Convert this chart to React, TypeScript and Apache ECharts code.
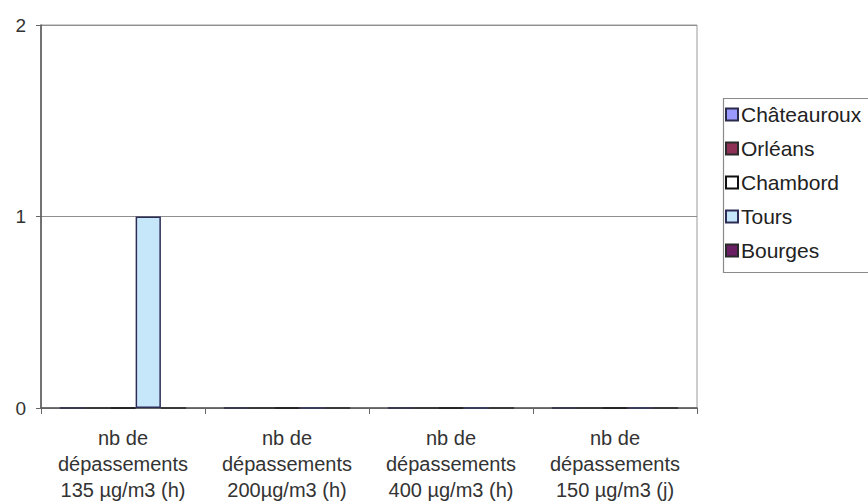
import React, { useEffect, useRef } from "react";
import * as echarts from "echarts";

const categories = [
  "nb de\ndépassements\n135 µg/m3 (h)",
  "nb de\ndépassements\n200µg/m3 (h)",
  "nb de\ndépassements\n400 µg/m3 (h)",
  "nb de\ndépassements\n150 µg/m3 (j)",
];
const seriesNames = ["Châteauroux", "Orléans", "Chambord", "Tours", "Bourges"];
const chateaurouxValues = [0, 0, 0, 0];
const orleansValues = [0, 0, 0, 0];
const chambordValues = [0, 0, 0, 0];
const toursValues = [1, 0, 0, 0];
const bourgesValues = [0, 0, 0, 0];
const seriesValues = [chateaurouxValues, orleansValues, chambordValues, toursValues, bourgesValues];
const seriesColors = ["#9999ff", "#8e2f55", "#ffffff", "#c6e7fa", "#6a1f62"];
const seriesBorders = ["#2a2a4a", "#2a2a2a", "#111111", "#2c2c56", "#2a2a2a"];

const FONT = "'Liberation Sans', Arial, sans-serif";

export default function App() {
  const ref = useRef<HTMLDivElement>(null);
  useEffect(() => {
    if (!ref.current) return;
    const chart = echarts.init(ref.current, undefined, { renderer: "svg" });
    chart.setOption({
      animation: false,
      backgroundColor: "#ffffff",
      grid: {
        left: 41,
        top: 25,
        right: 171,
        bottom: 94,
        containLabel: false,
        outerBoundsMode: "none",
        show: true,
        borderColor: "#9a9a9a",
        borderWidth: 1,
        backgroundColor: "transparent",
      },
      legend: {
        orient: "vertical",
        left: 725,
        top: 104,
        padding: 0,
        itemWidth: 12,
        itemHeight: 12,
        itemGap: 13,
        icon: "rect",
        selectedMode: false,
        textStyle: { fontFamily: FONT, fontSize: 21, color: "#222", lineHeight: 21, padding: [0, 0, 0, -2] },
        data: seriesNames,
      },
      graphic: [
        {
          type: "rect",
          shape: { x: 723.5, y: 98.5, width: 160, height: 174 },
          style: { fill: "none", stroke: "#8a8a8a", lineWidth: 1.2 },
          z: 0,
        },
      ],
      xAxis: {
        type: "category",
        data: categories,
        axisLine: { lineStyle: { color: "#555", width: 1.5 } },
        axisTick: { show: true, alignWithLabel: false, length: 6, lineStyle: { color: "#666" } },
        axisLabel: {
          fontFamily: FONT,
          fontSize: 20,
          color: "#333",
          lineHeight: 26,
          margin: 17,
          interval: 0,
          verticalAlign: "top",
        },
        splitLine: { show: false },
      },
      yAxis: {
        type: "value",
        min: 0,
        max: 2,
        interval: 1,
        axisLine: { show: true, lineStyle: { color: "#555", width: 1.5 } },
        axisTick: { show: true, length: 5, lineStyle: { color: "#666" } },
        axisLabel: { fontFamily: FONT, fontSize: 19, color: "#333", margin: 15 },
        splitLine: { show: true, lineStyle: { color: "#8f8f8f", width: 1 } },
      },
      series: seriesNames.map((name, i) => ({
        name,
        type: "bar",
        data: seriesValues[i],
        barGap: "0%",
        barCategoryGap: "23%",
        itemStyle: { color: seriesColors[i], borderColor: seriesBorders[i], borderWidth: 1.5 },
      })),
    });
    return () => chart.dispose();
  }, []);
  return <div ref={ref} style={{ width: 868, height: 502, position: "absolute", left: 0, top: 0 }} />;
}
